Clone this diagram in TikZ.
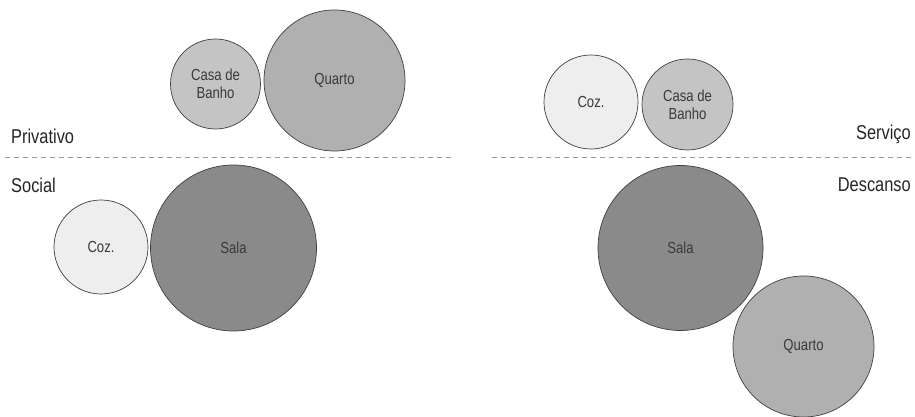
\documentclass[tikz,border=0pt]{standalone}
\usepackage{fontspec}
\setmainfont{Liberation Sans}[FakeStretch=0.82]
\usetikzlibrary{positioning}
\definecolor{cozfill}{HTML}{EEEEEE}
\definecolor{banhofill}{HTML}{C4C4C4}
\definecolor{quartofill}{HTML}{B0B0B0}
\definecolor{salafill}{HTML}{8A8A8A}
\definecolor{roomtext}{HTML}{3A3A3A}
\tikzset{
  room/.style={circle,draw=black!75,line width=0.7pt,inner sep=0pt,text=roomtext,
    font=\fontsize{16}{18}\selectfont,align=center},
  zone/.style={text=black!85,font=\fontsize{20}{20}\selectfont,inner sep=0pt},
  divider/.style={gray!80,line width=0.7pt,dash pattern=on 5pt off 4pt}
}
\begin{document}
\begin{tikzpicture}[x=1pt,y=1pt]
        \useasboundingbox (0,0) rectangle (915,417);
        % left: Privativo / Social
        \node[room,fill=banhofill,minimum size=90pt] (banhoL) at (215.5,333) {Casa de\\Banho};
        \node[room,fill=quartofill,minimum size=141pt] (quartoL) at (334.5,336.5) {Quarto};
        \node[room,fill=cozfill,minimum size=94pt] (cozL) at (101,170) {Coz.};
        \node[room,fill=salafill,minimum size=166pt] (salaL) at (233.5,169) {Sala};
        \coordinate (divLa) at (5,260);
        \coordinate (divLb) at (453,260);
        \draw[divider] (divLa)--(divLb);
        \node[zone,anchor=base west] (privativo) at (11,273) {Privativo};
        \node[zone,anchor=base west] (social) at (11,224) {Social};
        % right: Servico / Descanso
        \node[room,fill=cozfill,minimum size=94pt] (cozR) at (591,315) {Coz.};
        \node[room,fill=banhofill,minimum size=91pt] (banhoR) at (687.5,312.5) {Casa de\\Banho};
        \node[room,fill=salafill,minimum size=165pt] (salaR) at (680.5,169) {Sala};
        \node[room,fill=quartofill,minimum size=141pt] (quartoR) at (803.5,70.5) {Quarto};
        \coordinate (divRa) at (492,260);
        \coordinate (divRb) at (915,260);
        \draw[divider] (divRa)--(divRb);
        \node[zone,anchor=base east] (servico) at (911,277) {Serviço};
        \node[zone,anchor=base east] (descanso) at (911,225) {Descanso};
      \end{tikzpicture}
\end{document}
